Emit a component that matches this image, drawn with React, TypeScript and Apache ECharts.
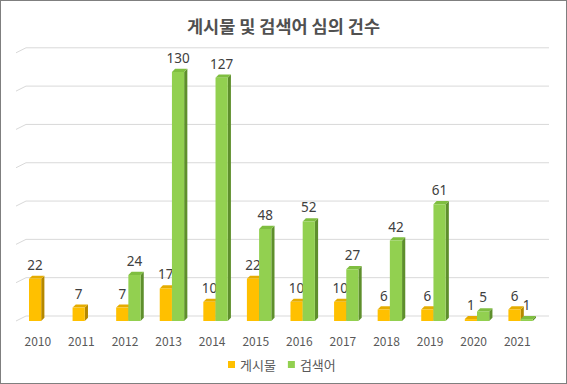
import React, { useEffect, useRef } from "react";
import * as echarts from "echarts";

const years = ["2010", "2011", "2012", "2013", "2014", "2015", "2016", "2017", "2018", "2019", "2020", "2021"];
const postValues: (number | null)[] = [22, 7, 7, 17, 10, 22, 10, 10, 6, 6, 1, 6];
const searchValues: (number | null)[] = [null, null, 24, 130, 127, 48, 52, 27, 42, 61, 5, 1];
const gridTicks = [0, 20, 40, 60, 80, 100, 120, 140];
const seriesNames = ["게시물", "검색어"];

const FONT = "'Noto Sans CJK KR', 'Noto Sans', sans-serif";
const NUMFONT = "'Noto Sans', 'Noto Sans CJK KR', sans-serif";
const DEPTH = 3.2;

function makeBarRenderer(which: number, front: string, side: string, top: string) {
  return (params: any, api: any) => {
    const idx = api.value(0);
    const v = api.value(1);
    if (v == null || isNaN(v)) return null;
    const c = api.coord([idx, v]);
    const b = api.coord([idx, 0]);
    const bw = api.size([1, 0])[0];
    const w = bw * 0.28;
    const shift = bw * 0.078;
    const x0 = c[0] + shift + (which === 0 ? -w : 0);
    const yt = c[1];
    const yb = b[1];
    const d = DEPTH;
    return {
      type: "group",
      children: [
        {
          type: "polygon",
          shape: { points: [[x0 + w, yt], [x0 + w + d, yt - d], [x0 + w + d, yb - d], [x0 + w, yb]] },
          style: { fill: side },
        },
        {
          type: "polygon",
          shape: { points: [[x0, yt], [x0 + d, yt - d], [x0 + w + d, yt - d], [x0 + w, yt]] },
          style: { fill: top },
        },
        {
          type: "rect",
          shape: { x: x0, y: yt, width: w, height: Math.max(yb - yt, 0) },
          style: { fill: front },
        },
        {
          type: "text",
          x: x0 + w / 2,
          y: yt - d - 4,
          style: {
            text: String(v),
            fill: "#404040",
            font: `13.5px ${NUMFONT}`,
            textAlign: "center",
            textVerticalAlign: "bottom",
          },
        },
      ],
    };
  };
}

export default function App() {
  const ref = useRef<HTMLDivElement>(null);
  useEffect(() => {
    document.body.style.margin = "0";
    if (!ref.current) return;
    const chart = echarts.init(ref.current, null, { renderer: "svg" });
    const n = years.length;
    chart.setOption({
      animation: false,
      backgroundColor: "#ffffff",
      textStyle: { fontFamily: FONT },
      title: {
        text: "게시물 및 검색어 심의 건수",
        left: "center",
        top: 11,
        textStyle: { fontSize: 17.5, fontWeight: "bold", color: "#505050", fontFamily: FONT },
      },
      legend: {
        data: seriesNames,
        left: 227,
        top: 357,
        padding: 0,
        icon: "rect",
        itemWidth: 7,
        itemHeight: 7,
        itemGap: 12,
        textStyle: { fontSize: 13, color: "#595959", fontFamily: FONT },
      },
      grid: { left: 15, right: 27, top: 51.8, bottom: 62 },
      xAxis: {
        type: "category",
        data: years,
        axisLine: { show: false },
        axisTick: { show: false },
        axisLabel: { color: "#595959", fontSize: 12, margin: 13, fontFamily: FONT },
      },
      yAxis: {
        type: "value",
        min: 0,
        max: 140,
        interval: 20,
        show: false,
        splitLine: { show: false },
      },
      series: [
        {
          type: "custom",
          name: "grid",
          silent: true,
          z: 0,
          data: gridTicks.map((t) => [0, t]),
          renderItem: (params: any, api: any) => {
            const v = api.value(1);
            const bw = api.size([1, 0])[0];
            const p0 = api.coord([0, v]);
            const pN = api.coord([n - 1, v]);
            const left = p0[0] - bw / 2;
            const right = pN[0] + bw / 2;
            const y = p0[1];
            return {
              type: "polyline",
              shape: { points: [[left, y], [left + 10, y - 5], [right + 10, y - 5]] },
              style: { stroke: "#D9D9D9", lineWidth: 1, fill: null },
            };
          },
        },
        {
          type: "custom",
          name: seriesNames[0],
          z: 2,
          itemStyle: { color: "#FFC000" },
          data: postValues.map((v, i) => [i, v == null ? "-" : v]),
          renderItem: makeBarRenderer(0, "#FFC000", "#B58800", "#E5AC00"),
        },
        {
          type: "custom",
          name: seriesNames[1],
          z: 2,
          itemStyle: { color: "#92D050" },
          data: searchValues.map((v, i) => [i, v == null ? "-" : v]),
          renderItem: makeBarRenderer(1, "#92D050", "#5E8F2C", "#7FBE40"),
        },
      ],
    });
    return () => chart.dispose();
  }, []);
  return (
    <div
      style={{
        width: 567,
        height: 384,
        boxSizing: "border-box",
        border: "1px solid #7F7F7F",
        position: "relative",
        background: "#fff",
      }}
    >
      <div ref={ref} style={{ width: 565, height: 382 }} />
    </div>
  );
}
